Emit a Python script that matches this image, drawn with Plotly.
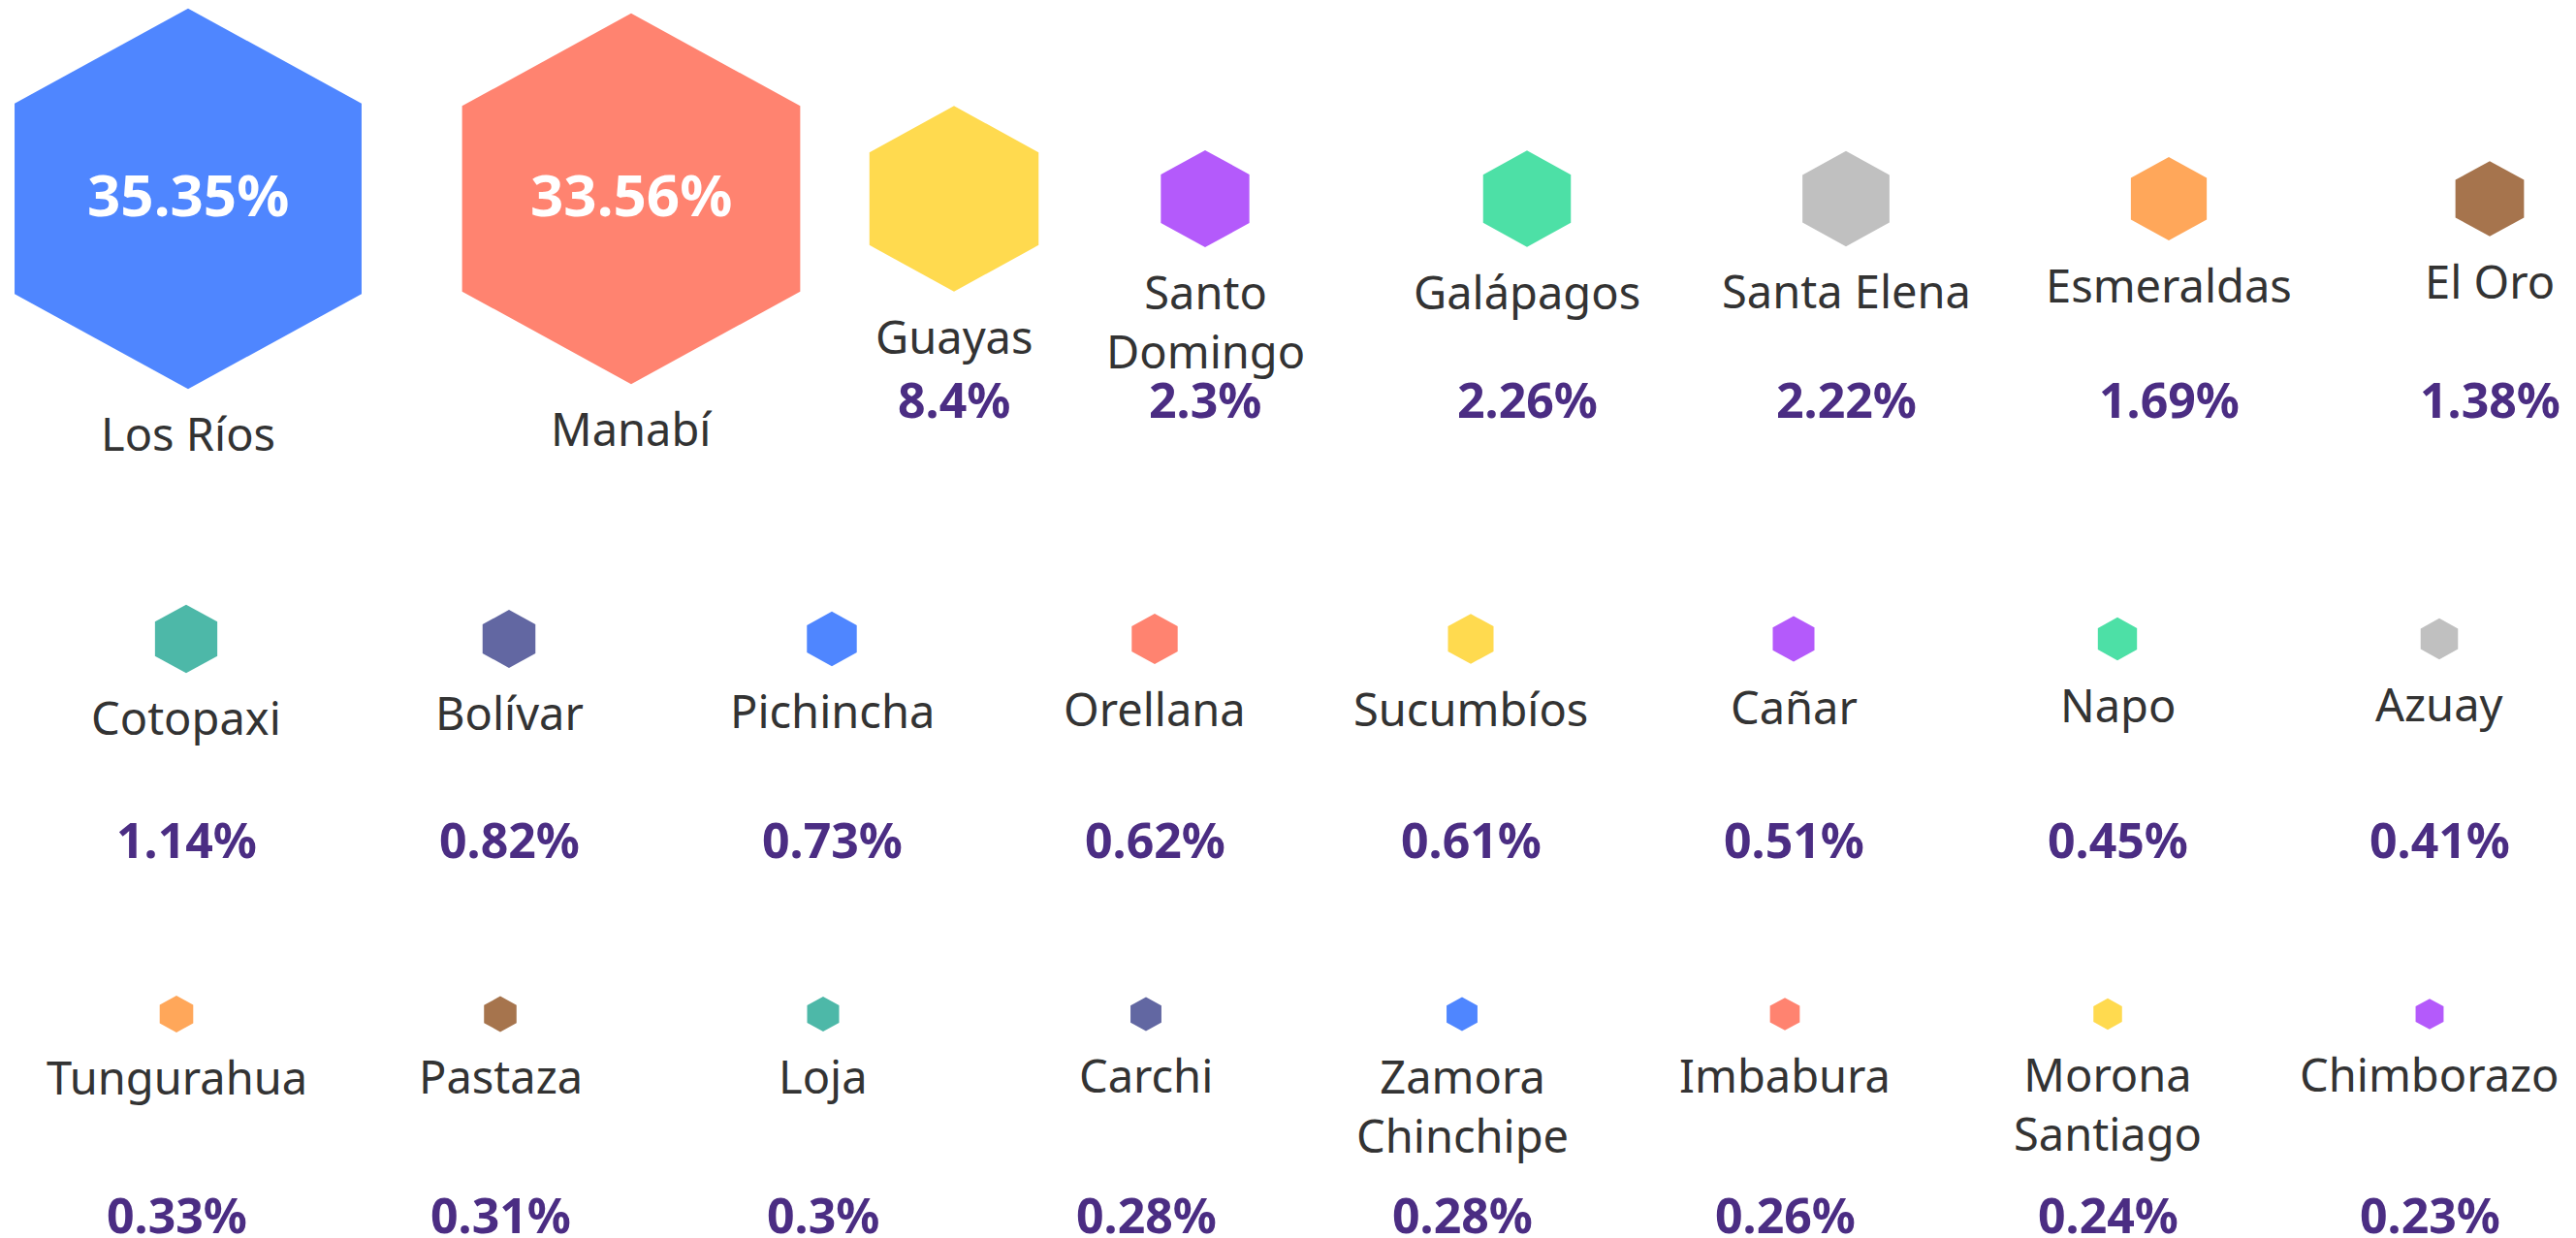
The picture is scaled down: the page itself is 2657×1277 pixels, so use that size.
import math
import plotly.graph_objects as go

# ---------------- data ----------------
provinces = ["Los Ríos", "Manabí", "Guayas", "Santo Domingo", "Galápagos", "Santa Elena",
             "Esmeraldas", "El Oro", "Cotopaxi", "Bolívar", "Pichincha", "Orellana",
             "Sucumbíos", "Cañar", "Napo", "Azuay", "Tungurahua", "Pastaza", "Loja",
             "Carchi", "Zamora Chinchipe", "Imbabura", "Morona Santiago", "Chimborazo"]
values = [35.35, 33.56, 8.4, 2.3, 2.26, 2.22, 1.69, 1.38, 1.14, 0.82, 0.73, 0.62,
          0.61, 0.51, 0.45, 0.41, 0.33, 0.31, 0.3, 0.28, 0.28, 0.26, 0.24, 0.23]

# ---------------- styles / layout ----------------
palette = ["#4F86FF", "#FF8370", "#FFDA4F", "#B45AFB", "#4DE0A6",
           "#C0C0C0", "#FFA75A", "#A6744D", "#4DB8A8", "#6267A2"]
W, H = 2657, 1277
PER_ROW = 8
slot_x = [[194, 651, 984, 1243, 1575, 1904, 2237, 2568],
          [192, 525, 858, 1191, 1517, 1850, 2184, 2516],
          [182, 516, 849, 1182, 1508, 1841, 2174, 2506]]
row_y = [205, 659, 1046]
SIZE_K = 60.2        # hexagon width per sqrt(percent)
ASPECT = 1.097       # hexagon height / width
LABEL_GAP = 46
PCT_OFFSET = 207
FONT = "Noto Sans"
LABEL_FS = 47
PCT_FS = 50
INNER_FS = 60
LABEL_COLOR = "#333333"
PCT_COLOR = "#4B2D83"


def wrap(name):
    if len(name) > 12 and " " in name:
        a, b = name.split(" ", 1)
        return a + "<br>" + b, 2
    return name, 1


fig = go.Figure()
annotations = []
for i, (name, v) in enumerate(zip(provinces, values)):
    r, c = divmod(i, PER_ROW)
    cx, cy = slot_x[r][c], row_y[r]
    w = SIZE_K * math.sqrt(v)
    h = w * ASPECT
    xs = [cx, cx + w / 2, cx + w / 2, cx, cx - w / 2, cx - w / 2, cx]
    ys = [cy - h / 2, cy - h / 4, cy + h / 4, cy + h / 2, cy + h / 4, cy - h / 4, cy - h / 2]
    color = palette[i % len(palette)]
    fig.add_trace(go.Scatter(x=xs, y=ys, mode="lines", fill="toself",
                             fillcolor=color, line=dict(color=color, width=0),
                             hoverinfo="text", text=f"{name}: {v}%",
                             showlegend=False))
    txt, nl = wrap(name)
    bottom = cy + h / 2
    annotations.append(dict(x=cx, y=bottom + LABEL_GAP + 0.65 * LABEL_FS * (nl - 1),
                            xref="x", yref="y", text=txt, showarrow=False,
                            xanchor="center", yanchor="middle",
                            font=dict(family=FONT, size=LABEL_FS, color=LABEL_COLOR)))
    pct = f"{v}%"
    if v >= 10:
        annotations.append(dict(x=cx, y=cy - 5, xref="x", yref="y",
                                text=f"<b>{pct}</b>", showarrow=False,
                                xanchor="center", yanchor="middle",
                                font=dict(family=FONT, size=INNER_FS, color="#FFFFFF")))
    else:
        annotations.append(dict(x=cx, y=cy + PCT_OFFSET, xref="x", yref="y",
                                text=f"<b>{pct}</b>", showarrow=False,
                                xanchor="center", yanchor="middle",
                                font=dict(family=FONT, size=PCT_FS, color=PCT_COLOR)))

fig.update_layout(
    width=W, height=H,
    margin=dict(l=0, r=0, t=0, b=0),
    paper_bgcolor="white", plot_bgcolor="white",
    xaxis=dict(range=[0, W], visible=False, fixedrange=True),
    yaxis=dict(range=[H, 0], visible=False, fixedrange=True),
    annotations=annotations,
    showlegend=False,
)

fig.write_html("out.html",
               config={"displayModeBar": False},
               post_script="document.body.style.margin='0';document.body.style.overflow='hidden';")
